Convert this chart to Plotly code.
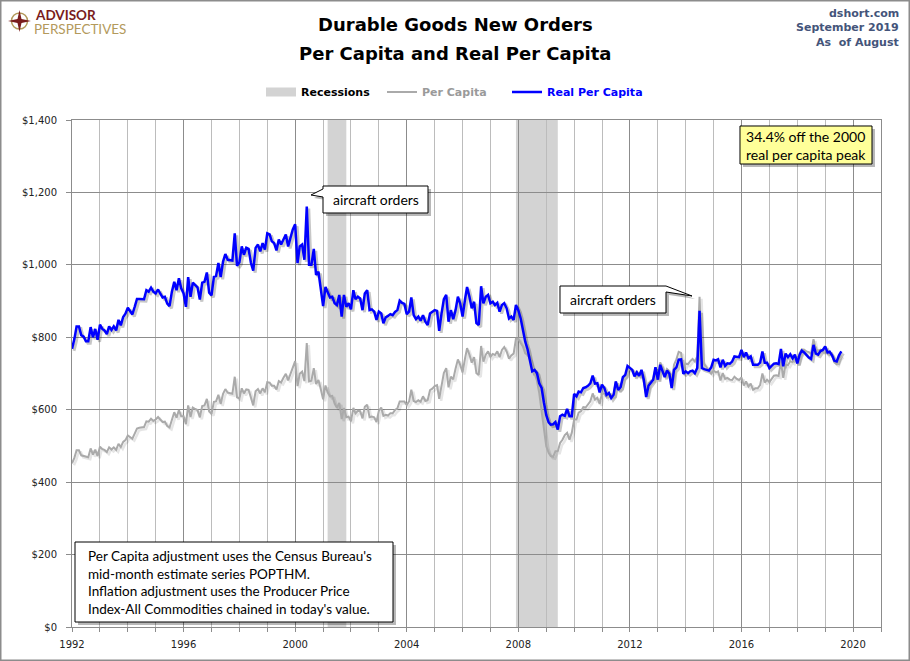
import pandas as pd
import plotly.graph_objects as go

# monthly values, Jan 1992 - Aug 2019 (dollars)
real_per_capita = [
    768, 795, 830, 830, 806, 802, 789, 789, 828, 800, 823, 793,
    835, 823, 819, 809, 830, 820, 830, 819, 848, 833, 856, 865,
    882, 870, 863, 884, 906, 906, 905, 905, 930, 926, 937, 926,
    921, 932, 921, 910, 912, 893, 886, 926, 953, 930, 963, 935,
    921, 884, 966, 912, 951, 944, 938, 904, 951, 953, 979, 923,
    916, 967, 969, 1005, 966, 1009, 1030, 1014, 1014, 1012, 1087, 997,
    1007, 1051, 1028, 1047, 1044, 1005, 984, 1047, 1056, 1037, 1060, 1042,
    1087, 1084, 1065, 1060, 1040, 1070, 1056, 1072, 1084, 1051, 1072, 1098,
    1112, 1005, 1051, 1056, 1014, 1161, 1000, 1000, 1044, 972, 981, 938,
    886, 939, 925, 910, 912, 894, 889, 917, 857, 917, 884, 894,
    877, 930, 905, 912, 907, 875, 921, 930, 875, 877, 871, 848,
    871, 866, 839, 855, 859, 864, 861, 870, 875, 901, 895, 892,
    864, 871, 910, 861, 850, 857, 846, 861, 843, 834, 866, 871,
    875, 873, 818, 866, 905, 917, 843, 875, 850, 875, 912, 894,
    857, 903, 939, 912, 880, 898, 839, 834, 941, 894, 912, 917,
    894, 898, 889, 895, 871, 889, 894, 880, 852, 857, 848, 889,
    875, 852, 816, 788, 767, 739, 706, 710, 701, 673, 660, 620,
    585, 565, 559, 560, 566, 545, 582, 586, 583, 602, 582, 582,
    644, 637, 650, 648, 660, 662, 666, 673, 694, 672, 673, 648,
    669, 660, 641, 646, 632, 641, 678, 655, 662, 690, 696, 721,
    715, 710, 692, 703, 694, 710, 683, 635, 666, 673, 683, 717,
    683, 724, 710, 690, 708, 699, 660, 710, 717, 738, 739, 699,
    706, 701, 706, 708, 701, 715, 873, 715, 712, 710, 708, 717,
    738, 736, 739, 717, 738, 721, 728, 727, 733, 747, 745, 745,
    765, 745, 758, 742, 747, 724, 724, 724, 730, 761, 730, 730,
    715, 722, 727, 728, 726, 768, 720, 755, 745, 753, 742, 752,
    728, 752, 763, 758, 750, 744, 740, 779, 755, 752, 762, 765,
    775, 758, 760, 750, 735, 733, 750, 761,
]

per_capita = [
    452, 467, 488, 488, 474, 472, 469, 469, 493, 476, 490, 472,
    498, 491, 489, 483, 496, 490, 496, 489, 506, 497, 511, 516,
    529, 523, 520, 534, 548, 550, 550, 552, 568, 567, 575, 569,
    573, 580, 573, 566, 567, 555, 551, 576, 593, 578, 599, 582,
    582, 560, 612, 580, 606, 602, 599, 579, 610, 612, 630, 595,
    589, 622, 623, 641, 616, 644, 657, 647, 645, 644, 691, 634,
    631, 659, 645, 656, 655, 630, 612, 651, 657, 645, 659, 648,
    676, 675, 666, 666, 656, 679, 675, 688, 699, 681, 699, 720,
    734, 665, 699, 705, 679, 784, 678, 680, 715, 671, 682, 657,
    629, 667, 648, 637, 638, 617, 605, 619, 574, 605, 579, 581,
    568, 605, 590, 597, 596, 576, 608, 614, 579, 581, 579, 566,
    597, 606, 583, 586, 584, 590, 590, 599, 604, 623, 622, 623,
    613, 623, 655, 624, 621, 626, 622, 637, 624, 626, 654, 658,
    665, 668, 630, 671, 701, 715, 662, 691, 684, 713, 739, 724,
    703, 740, 770, 752, 730, 745, 701, 696, 776, 733, 752, 761,
    746, 754, 751, 761, 745, 765, 773, 761, 741, 750, 755, 796,
    796, 784, 775, 756, 752, 739, 720, 703, 680, 646, 600, 546,
    499, 481, 472, 470, 485, 485, 508, 517, 530, 536, 517, 536,
    573, 573, 592, 596, 607, 606, 613, 623, 645, 628, 633, 616,
    646, 644, 635, 646, 638, 641, 678, 655, 662, 687, 693, 714,
    711, 710, 695, 707, 694, 703, 676, 641, 673, 680, 683, 717,
    686, 731, 717, 693, 712, 706, 670, 724, 739, 760, 757, 713,
    727, 726, 734, 740, 733, 747, 912, 736, 726, 717, 708, 699,
    708, 703, 706, 681, 701, 685, 688, 683, 682, 691, 685, 682,
    689, 667, 678, 664, 672, 655, 659, 659, 668, 700, 675, 683,
    676, 686, 694, 695, 693, 733, 688, 725, 723, 734, 731, 744,
    728, 756, 767, 766, 761, 759, 755, 795, 766, 763, 766, 761,
    771, 754, 760, 750, 731, 726, 743, 750,
]

recession_start = ["2001-03-01", "2007-12-01"]
recession_end = ["2001-11-01", "2009-06-01"]
first_month = "1992-01-01"

months = pd.date_range(first_month, periods=len(real_per_capita), freq="MS")

W, H = 910, 661
L, R, T, B = 72, 29, 120, 34
PW, PH = W - L - R, H - T - B
X_RANGE = [pd.Timestamp("1992-01-01"), pd.Timestamp("2021-01-01")]
Y_RANGE = [0, 1400]


# pixel position on the page -> paper coords
def px(x):
    return (x - L) / PW


def py(y):
    return (H - B - y) / PH


def path(points, dx=0, dy=0):
    return "M" + " L".join(f"{px(x + dx):.5f},{py(y + dy):.5f}" for x, y in points) + " Z"


# the drop shadow under the lines: same data on a hidden axis pair shifted 2px right/down
shift = 2
day_per_px = (X_RANGE[1] - X_RANGE[0]) / PW
val_per_px = (Y_RANGE[1] - Y_RANGE[0]) / PH
shadow_x = [X_RANGE[0] - shift * day_per_px, X_RANGE[1] - shift * day_per_px]
shadow_y = [Y_RANGE[0] + shift * val_per_px, Y_RANGE[1] + shift * val_per_px]

BODY = "Lato"
shapes = []
for s, e in zip(recession_start, recession_end):
    shapes.append(dict(type="rect", xref="x2", yref="paper", x0=s, x1=e, y0=0, y1=1,
                       fillcolor="#d3d3d3", line_width=0, layer="below"))

callouts = [
    [(740, 126), (872, 126), (872, 164), (740, 164)],
    [(323, 186), (428, 186), (428, 213), (323, 213), (323, 197), (311, 195), (323, 189)],
    [(560, 286), (666, 286), (692, 296), (666, 292), (666, 313), (560, 313)],
    [(75, 542), (393, 542), (393, 622), (75, 622)],
]
fills = ["#ffff99", "white", "white", "white"]
for pts, fill in zip(callouts, fills):
    shapes.append(dict(type="path", xref="paper", yref="paper", path=path(pts, 3, 3),
                       fillcolor="rgba(0,0,0,0.28)", line_width=0))
    shapes.append(dict(type="path", xref="paper", yref="paper", path=path(pts),
                       fillcolor=fill, line=dict(color="black", width=1)))

# outer frame
shapes.append(dict(type="rect", xref="paper", yref="paper", x0=px(0.75), x1=px(909.25),
                   y0=py(660.25), y1=py(0.75), line=dict(color="#8c8c8c", width=1.5)))
# logo mark
shapes.append(dict(type="circle", xref="paper", yref="paper", x0=px(11.5), x1=px(27.5),
                   y0=py(29), y1=py(13), line=dict(color="#b39a5c", width=1.5)))
star = [(19.5, 10), (21.5, 19), (31, 21), (21.5, 23), (19.5, 32), (17.5, 23), (8, 21), (17.5, 19)]
shapes.append(dict(type="path", xref="paper", yref="paper", path=path(star),
                   fillcolor="#7a1c1c", line_width=0))

annotations = [
    dict(x=px(455), y=py(25), text="<b>Durable Goods New Orders</b>",
         font=dict(family="DejaVu Sans", size=18, color="black")),
    dict(x=px(455), y=py(53), text="<b>Per Capita and Real Per Capita</b>",
         font=dict(family="DejaVu Sans", size=18, color="black")),
    dict(x=px(901), y=py(13), xanchor="right", text="<b>dshort.com</b>",
         font=dict(family="DejaVu Sans", size=11, color="#44547a")),
    dict(x=px(901), y=py(28), xanchor="right", text="<b>September 2019</b>",
         font=dict(family="DejaVu Sans", size=11, color="#44547a")),
    dict(x=px(901), y=py(43), xanchor="right", text="<b>As  of August</b>",
         font=dict(family="DejaVu Sans", size=11, color="#44547a")),
    dict(x=px(33), y=py(15), xanchor="left", text="<b>ADVISOR</b>",
         font=dict(family="Lato", size=13.5, color="#7a1c1c")),
    dict(x=px(32), y=py(28.5), xanchor="left", text="PERSPECTIVES",
         font=dict(family="Lato", size=13.5, color="#b39a5c")),
    dict(x=px(806), y=py(145), text="34.4% off the 2000<br>real per capita peak",
         font=dict(family=BODY, size=14, color="black")),
    dict(x=px(375.5), y=py(199.5), text="aircraft orders",
         font=dict(family=BODY, size=14, color="black")),
    dict(x=px(613), y=py(299.5), text="aircraft orders",
         font=dict(family=BODY, size=14, color="black")),
    dict(x=px(86), y=py(582.5), xanchor="left", align="left",
         text="Per Capita adjustment uses the Census Bureau's<br>"
              "mid-month estimate series POPTHM.<br>"
              "Inflation adjustment uses the Producer Price<br>"
              "Index-All Commodities chained in today's value.",
         font=dict(family=BODY, size=13.5, color="black")),
]
for a in annotations:
    a.update(xref="paper", yref="paper", showarrow=False)
    a.setdefault("xanchor", "center")
    a.setdefault("yanchor", "middle")

fig = go.Figure()
# shadows first (base subplot, drawn under the overlay)
fig.add_trace(go.Scatter(x=months, y=per_capita, mode="lines", showlegend=False,
                         hoverinfo="skip", line=dict(color="rgba(0,0,0,0.10)", width=2.5)))
fig.add_trace(go.Scatter(x=months, y=real_per_capita, mode="lines", showlegend=False,
                         hoverinfo="skip", line=dict(color="rgba(0,0,0,0.22)", width=3)))
fig.add_trace(go.Scatter(x=[None], y=[None], mode="lines", name="<b>Recessions</b>",
                         xaxis="x2", yaxis="y2", legend="legend",
                         line=dict(color="#d3d3d3", width=9)))
fig.add_trace(go.Scatter(x=months, y=per_capita, mode="lines", xaxis="x2", yaxis="y2",
                         name="<span style='color:#9a9a9a'><b>Per Capita</b></span>",
                         legend="legend2", line=dict(color="#aaaaaa", width=2)))
fig.add_trace(go.Scatter(x=months, y=real_per_capita, mode="lines", xaxis="x2", yaxis="y2",
                         name="<span style='color:#0000ff'><b>Real Per Capita</b></span>",
                         legend="legend3", line=dict(color="#0000ff", width=2.5)))

legend_style = dict(orientation="h", xanchor="left", y=py(92), yanchor="middle",
                    font=dict(family="DejaVu Sans", size=11, color="black"),
                    bgcolor="rgba(0,0,0,0)")

fig.update_layout(
    width=W, height=H,
    margin=dict(l=L, r=R, t=T, b=B),
    paper_bgcolor="white", plot_bgcolor="white",
    font=dict(family="DejaVu Sans", size=11, color="#222222"),
    showlegend=True,
    legend=dict(x=px(261), **legend_style),
    legend2=dict(x=px(382), **legend_style),
    legend3=dict(x=px(507), **legend_style),
    shapes=shapes,
    annotations=annotations,
    xaxis=dict(type="date", range=shadow_x, visible=False, showgrid=False),
    yaxis=dict(range=shadow_y, visible=False, showgrid=False),
    xaxis2=dict(
        type="date", overlaying="x", anchor="y2", side="bottom",
        range=X_RANGE,
        tick0="1992-01-01", dtick="M48", tickformat="%Y",
        ticks="outside", ticklen=4, tickcolor="#8c8c8c", ticklabelstandoff=4,
        showgrid=True, gridcolor="#8c8c8c", gridwidth=1,
        minor=dict(dtick="M12", tick0="1992-01-01", showgrid=True, gridcolor="#bcbcbc",
                   ticks="outside", ticklen=4, tickcolor="#8c8c8c"),
        showline=True, linecolor="#8c8c8c", mirror=True, zeroline=False,
        tickfont=dict(family="DejaVu Sans", size=10, color="#222222"),
    ),
    yaxis2=dict(
        overlaying="y", anchor="x2", side="left",
        range=Y_RANGE, dtick=200, tickprefix="$", tickformat=",d",
        ticks="outside", ticklen=5, tickcolor="#8c8c8c", ticklabelstandoff=7,
        showgrid=True, gridcolor="#8c8c8c", gridwidth=1,
        showline=True, linecolor="#8c8c8c", mirror=True, zeroline=False,
        tickfont=dict(family="DejaVu Sans", size=10, color="#222222"),
    ),
)

fig.write_html("out.html", config={"displayModeBar": False},
               post_script="document.body.style.margin='0';")
